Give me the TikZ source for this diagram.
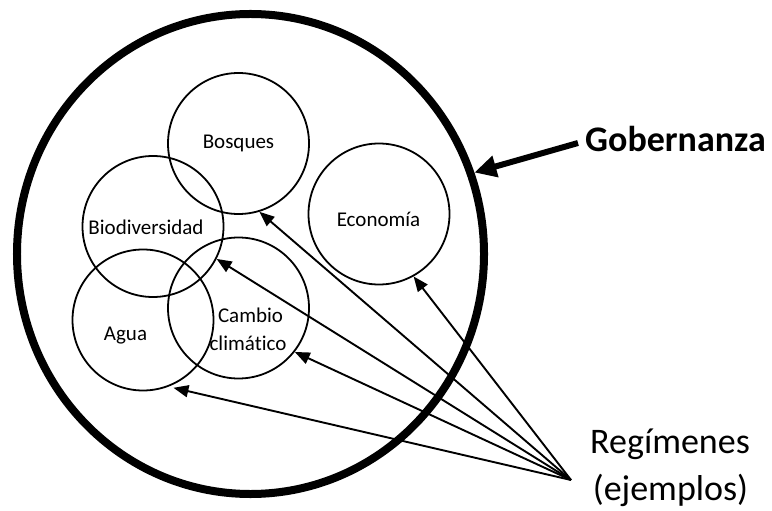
\documentclass[tikz,border=0pt]{standalone}
\usepackage{fontspec}
\setmainfont{Carlito}[Ligatures=NoCommon]
\usetikzlibrary{arrows.meta,shapes.geometric}
\begin{document}
\begin{tikzpicture}[x=1bp,y=-1bp,
  regime/.style={circle,draw,line width=1.8bp,minimum size=141bp,inner sep=0pt},
  lbl/.style={font=\fontsize{21bp}{28bp}\selectfont,anchor=base,inner sep=0pt},
  ptr/.style={line width=1.9bp,-{Triangle[length=15bp,width=12bp]}},
  bigtxt/.style={font=\fontsize{36bp}{47bp}\selectfont,inner sep=0pt},
]
\useasboundingbox (0,0) rectangle (772,511);
% outer governance ellipse
\node[ellipse,draw,line width=8bp,minimum width=467bp,minimum height=480bp,inner sep=0pt] (gob) at (250.5,254) {};
% regime circles
\node[regime] (bos) at (238.5,143.5) {};
\node[regime] (bio) at (153,226.5) {};
\node[regime] (eco) at (379,214) {};
\node[regime] (agua) at (143,320) {};
\node[regime] (cam) at (238.5,308) {};
% labels
\node[lbl] (tbos) at (238.5,149) {Bosques};
\node[lbl] (tbio) at (146,235) {Biodiversidad};
\node[lbl] (teco) at (378.5,227) {Economía};
\node[lbl] (tagua) at (125.5,340) {Agua};
\node[lbl] (tcam1) at (250.5,322.7) {Cambio};
\node[lbl] (tcam2) at (248,350.7) {climático};
% governance label and arrow
\node[bigtxt,anchor=base,font=\fontsize{36bp}{47bp}\selectfont\bfseries] (tgob) at (675.5,151.7) {Gobernanza};
\coordinate (gobtail) at (578,143);
\draw[line width=6bp,-{Triangle[length=22bp,width=21bp]}] (gobtail) -- (gob.20.7);
% regimes label
\node[bigtxt,anchor=base] (treg1) at (670,453) {Regímenes};
\node[bigtxt,anchor=base] (treg2) at (670.5,500) {(ejemplos)};
\coordinate (src) at (571,480);
\draw[ptr] (src) -- (bos.-73.7);
\draw[ptr] (src) -- (eco.-61.8);
\draw[ptr] (src) -- (bio.-27.6);
\draw[ptr] (src) -- (cam.-38.5);
\draw[ptr,shorten >=5bp] (src) -- (agua.-69);
\end{tikzpicture}
\end{document}
